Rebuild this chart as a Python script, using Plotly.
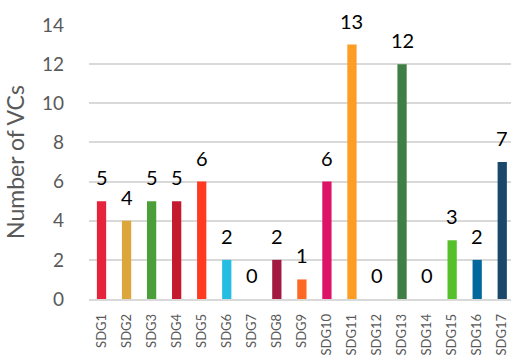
import plotly.graph_objects as go

categories = ["SDG1", "SDG2", "SDG3", "SDG4", "SDG5", "SDG6", "SDG7", "SDG8", "SDG9",
              "SDG10", "SDG11", "SDG12", "SDG13", "SDG14", "SDG15", "SDG16", "SDG17"]
values = [5, 4, 5, 5, 6, 2, 0, 2, 1, 6, 13, 0, 12, 0, 3, 2, 7]
colors = ["#E5243B", "#DDA63A", "#4C9F38", "#C5192D", "#FF3A21", "#26BDE2", "#FCC30B",
          "#A21942", "#FD6925", "#DD1367", "#FD9D24", "#BF8B2E", "#3F7E44", "#0A97D9",
          "#56C02B", "#00689D", "#19486A"]
y_ticks = [0, 2, 4, 6, 8, 10, 12, 14]

FONT = "Lato"
GRAY = "#595959"

fig = go.Figure()
fig.add_trace(go.Bar(x=categories, y=values, marker=dict(color=colors, line=dict(width=0)),
                     width=0.37, showlegend=False, hoverinfo="x+y"))

for c, v in zip(categories, values):
    fig.add_annotation(x=c, y=v, text=str(v), showarrow=False, yanchor="bottom",
                       yshift=10, font=dict(family=FONT, size=20, color="#000000"))

fig.update_layout(
    width=511, height=363,
    margin=dict(l=89, r=0, t=25, b=64),
    paper_bgcolor="white", plot_bgcolor="white",
    bargap=0.63,
    xaxis=dict(
        type="category", range=[-0.5, 16.35], automargin=False,
        tickangle=-90, tickfont=dict(family=FONT, size=13, color=GRAY),
        showline=True, linecolor="#d9d9d9", linewidth=1.5,
        showgrid=False, ticks="", ticklabelstandoff=8,
    ),
    yaxis=dict(
        range=[0, 14], tickvals=y_ticks, automargin=False,
        tickfont=dict(family=FONT, size=19, color=GRAY),
        showgrid=True, gridcolor="#d9d9d9", gridwidth=1.5,
        zeroline=False, ticks="", ticklabelstandoff=24,
        title=dict(text="Number of VCs", font=dict(family=FONT, size=23, color=GRAY), standoff=10),
    ),
)

fig.write_html(
    "out.html",
    config={"displayModeBar": False},
    post_script="document.body.style.margin='0';document.body.style.overflow='hidden';",
)
